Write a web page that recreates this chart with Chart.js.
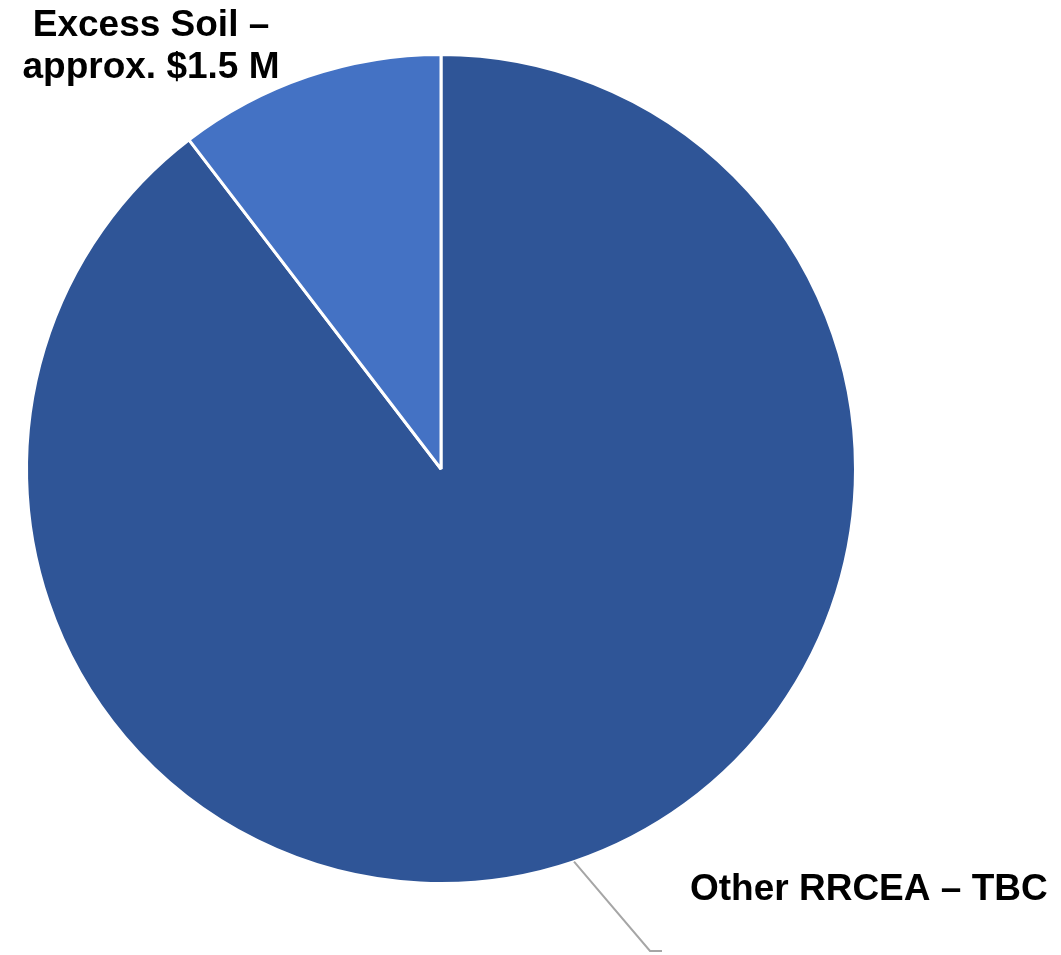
<!DOCTYPE html>
<html>
<head>
<meta charset="utf-8">
<script src="https://cdn.jsdelivr.net/npm/chart.js@4.4.1/dist/chart.umd.min.js"></script>
<style>
  html, body { margin: 0; padding: 0; background: #fff; }
  #wrap { width: 1061px; height: 955px; }
</style>
</head>
<body>
<div id="wrap"><canvas id="pieChart" width="1061" height="955"></canvas></div>
<script>
// data (share of total, %)
const categories = ['Other RRCEA – TBC', 'Excess Soil – approx. $1.5 M'];
const shares = [89.6, 10.4];
const sliceColors = ['#2F5597', '#4472C4'];

// label lines as they appear on the chart
const otherLabel = ['Other RRCEA – TBC'];
const soilLabel = ['Excess Soil –', 'approx. $1.5 M'];

const labelFont = 'bold 37px "Liberation Sans", Arial, sans-serif';

// Draws the two data labels and the leader line
const pieLabels = {
    id: 'pieLabels',
    afterDraw(chart) {
        const ctx = chart.ctx;
        const arcs = chart.getDatasetMeta(0).data;
        ctx.save();

        // leader line from the middle of the big slice
        const big = arcs[0];
        const mid = (big.startAngle + big.endAngle) / 2;
        const sx = big.x + Math.cos(mid) * big.outerRadius;
        const sy = big.y + Math.sin(mid) * big.outerRadius;
        ctx.strokeStyle = '#A6A6A6';
        ctx.lineWidth = 2;
        ctx.beginPath();
        ctx.moveTo(sx, sy);
        ctx.lineTo(650, 951);
        ctx.lineTo(662, 951);
        ctx.stroke();

        ctx.fillStyle = '#000';
        ctx.font = labelFont;
        ctx.textBaseline = 'alphabetic';

        ctx.textAlign = 'left';
        otherLabel.forEach((t, i) => ctx.fillText(t, 690, 900 + i * 42));

        ctx.textAlign = 'center';
        soilLabel.forEach((t, i) => ctx.fillText(t, 151, 36 + i * 42));

        ctx.restore();
    }
};

new Chart(document.getElementById('pieChart'), {
    type: 'pie',
    data: {
        labels: categories,
        datasets: [{
            data: shares,
            backgroundColor: sliceColors,
            borderColor: '#FFFFFF',
            borderWidth: 3
        }]
    },
    options: {
        responsive: false,
        animation: false,
        layout: {
            padding: { left: 0, right: 179, top: 53, bottom: 70 }
        },
        plugins: {
            legend: { display: false },
            tooltip: { enabled: false }
        }
    },
    plugins: [pieLabels]
});
</script>
</body>
</html>
